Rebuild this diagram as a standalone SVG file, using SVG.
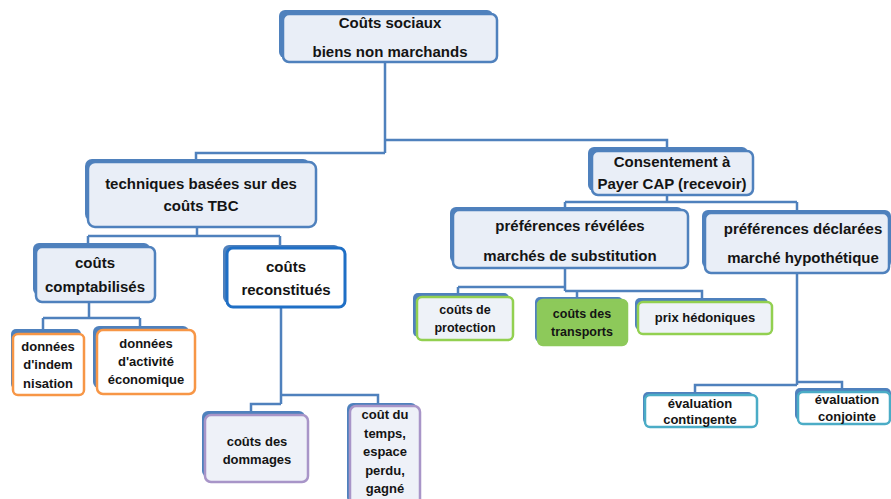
<svg xmlns="http://www.w3.org/2000/svg" width="891" height="499" viewBox="0 0 891 499">
<style>
text{font-family:"Liberation Sans",Arial,sans-serif;font-weight:bold;fill:#141414;text-anchor:middle}
.t15{font-size:15px}
.t13{font-size:13px}
.t12{font-size:12.5px}
.sh{fill:#4f81bd}
.fr{fill:#e9eef7;stroke:#4f81bd;stroke-width:2.5}
.rec{fill:#ffffff;stroke:#1f6fc5;stroke-width:3}
.or{fill:#ffffff;stroke:#f79646;stroke-width:2.5}
.pu{fill:#eef1f8;stroke:#a895c8;stroke-width:2.5}
.gr{fill:#eef2f8;stroke:#92d050;stroke-width:2.5}
.gf{fill:#8dc95a;stroke:#8dc95a;stroke-width:2.5}
.cy{fill:#ffffff;stroke:#4bacc6;stroke-width:2.5}
.con path{fill:none;stroke:#4f81bd;stroke-width:2.5}
</style>
<rect width="891" height="499" fill="#ffffff"/>
<g class="con" id="connectors">
<path d="M385,62 V153 M385,140 H667 V148 M385,153 H196 V160"/>
<path d="M197,227 V236 M88,236 H280 M88,236 V245 M280,236 V247"/>
<path d="M89,302 V318 M43,318 H140 M43,318 V331 M140,318 V327"/>
<path d="M281,307 V404 M281,395 H378 V404 M281,404 H251 V412"/>
<path d="M667,195 V202 M565,202 H797 M565,202 V208 M797,202 V211"/>
<path d="M565,268 V291 M458,287 H565 M458,287 V294 M565,291 H702 V299 M577,291 V298"/>
<path d="M797,273 V385 M797,382 H842 V389 M797,385 H695 V393"/>
</g>
<g id="n0">
<rect class="sh" x="279" y="10" width="214" height="48" rx="6"/>
<rect class="fr" x="283" y="14" width="214" height="48" rx="6"/>
<text class="t15" x="390" y="28">Coûts sociaux</text>
<text class="t15" x="390" y="57">biens non marchands</text>
</g>
<g id="n1">
<rect class="sh" x="85" y="159" width="225" height="62" rx="7"/>
<rect class="fr" x="88" y="162" width="228" height="65" rx="7"/>
<text class="t15" x="201" y="189">techniques basées sur des</text>
<text class="t15" x="201" y="211">coûts TBC</text>
</g>
<g id="n2">
<rect class="sh" x="588" y="147" width="160" height="44" rx="6"/>
<rect class="fr" x="592" y="151" width="161" height="44" rx="6"/>
<text class="t15" x="672" y="167">Consentement à</text>
<text class="t15" x="672" y="189">Payer CAP (recevoir)</text>
</g>
<g id="n3">
<rect class="sh" x="33" y="243" width="117" height="52" rx="6"/>
<rect class="fr" x="36" y="247" width="119" height="55" rx="6"/>
<text class="t15" x="95" y="268">coûts</text>
<text class="t15" x="95" y="292">comptabilisés</text>
</g>
<g id="n4">
<rect class="sh" x="223" y="245" width="117" height="58" rx="6"/>
<rect class="rec" x="227" y="248" width="118" height="59" rx="6"/>
<text class="t15" x="286" y="272">coûts</text>
<text class="t15" x="286" y="295">reconstitués</text>
</g>
<g id="n5">
<rect class="sh" x="450" y="207" width="233" height="56" rx="6"/>
<rect class="fr" x="453" y="210" width="235" height="58" rx="6"/>
<text class="t15" x="570" y="231">préférences révélées</text>
<text class="t15" x="570" y="261">marchés de substitution</text>
</g>
<g id="n6">
<rect class="sh" x="702" y="210" width="189" height="58" rx="6"/>
<rect class="fr" x="705" y="213" width="184" height="60" rx="6"/>
<text class="t15" x="803" y="234">préférences déclarées</text>
<text class="t15" x="803" y="263">marché hypothétique</text>
</g>
<g id="n7">
<rect class="sh" x="11" y="329" width="70" height="60" rx="5"/>
<rect class="or" x="13" y="334" width="71" height="61" rx="5"/>
<text class="t13" x="48" y="351">données</text>
<text class="t13" x="48" y="369">d'indem</text>
<text class="t13" x="48" y="388">nisation</text>
</g>
<g id="n8">
<rect class="sh" x="93" y="326" width="96" height="62" rx="6"/>
<rect class="or" x="97" y="330" width="98" height="64" rx="6"/>
<text class="t13" x="146" y="348">données</text>
<text class="t13" x="146" y="366">d'activité</text>
<text class="t13" x="146" y="384">économique</text>
</g>
<g id="n9">
<rect class="sh" x="202" y="411" width="103" height="66" rx="6"/>
<rect class="pu" x="205" y="415" width="103" height="67" rx="6"/>
<text class="t13" x="257" y="446">coûts des</text>
<text class="t13" x="257" y="464">dommages</text>
</g>
<g id="n10">
<rect class="sh" x="347" y="403" width="70" height="100" rx="6"/>
<rect class="pu" x="350" y="406" width="70" height="100" rx="6"/>
<text class="t13" x="385" y="419">coût du</text>
<text class="t13" x="385" y="437.5">temps,</text>
<text class="t13" x="385" y="456">espace</text>
<text class="t13" x="385" y="474.5">perdu,</text>
<text class="t13" x="385" y="493">gagné</text>
</g>
<g id="n11">
<rect class="sh" x="413" y="293" width="96" height="44" rx="5"/>
<rect class="gr" x="417" y="297" width="96" height="43" rx="5"/>
<text class="t12" x="465" y="314">coûts de</text>
<text class="t12" x="465" y="332">protection</text>
</g>
<g id="n12">
<rect class="sh" x="535" y="297" width="88" height="45" rx="5"/>
<rect class="gf" x="538" y="300" width="89" height="45" rx="5"/>
<text class="t12" x="582" y="318">coûts des</text>
<text class="t12" x="582" y="336">transports</text>
</g>
<g id="n13">
<rect class="sh" x="635" y="298" width="133" height="32" rx="5"/>
<rect class="gr" x="638" y="302" width="134" height="32" rx="5"/>
<text class="t13" x="705" y="322">prix hédoniques</text>
</g>
<g id="n14">
<rect class="sh" x="643" y="392" width="110" height="32" rx="5"/>
<rect class="cy" x="645" y="395" width="112" height="32" rx="5"/>
<text class="t13" x="700" y="408">évaluation</text>
<text class="t13" x="700" y="424">contingente</text>
</g>
<g id="n15">
<rect class="sh" x="795" y="388" width="96" height="32" rx="5"/>
<rect class="cy" x="798" y="392" width="92" height="32" rx="5"/>
<text class="t13" x="847" y="404">évaluation</text>
<text class="t13" x="847" y="421">conjointe</text>
</g>
</svg>
